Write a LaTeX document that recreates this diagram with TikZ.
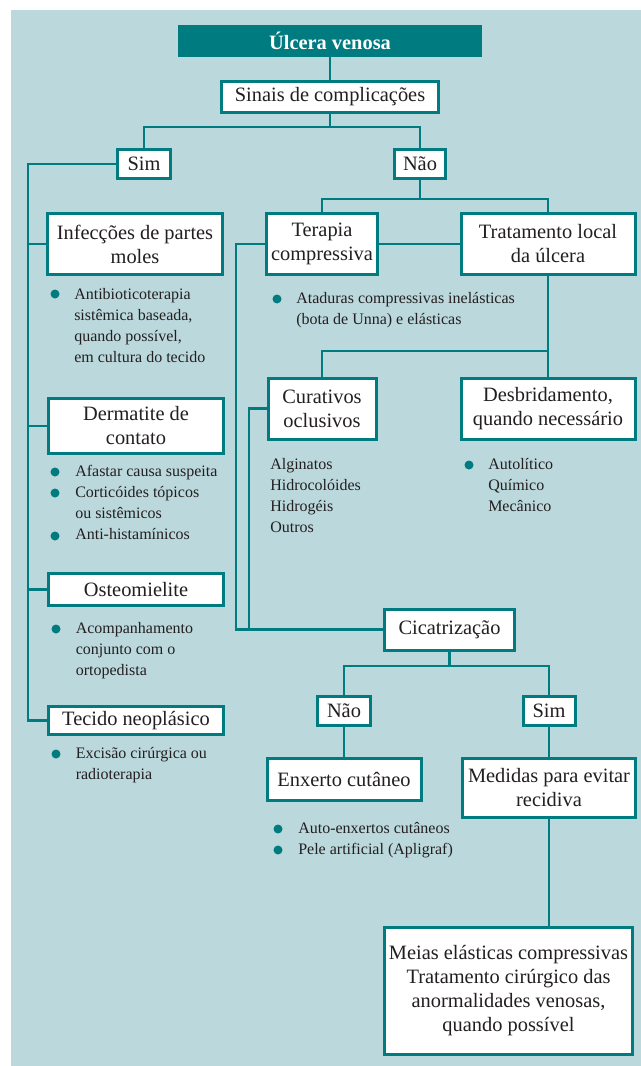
\documentclass[tikz,border=0pt]{standalone}
\usepackage{fontspec}
\setmainfont{Liberation Serif}
\definecolor{tealc}{HTML}{007B80}
\definecolor{bgc}{HTML}{BBD8DC}
\definecolor{txt}{HTML}{231F20}
\begin{document}
\begin{tikzpicture}[x=0.75pt,y=-0.75pt,
  box/.style={draw=tealc, line width=2.25pt, fill=white, align=center, inner sep=0pt, text=txt, font=\fontsize{15.3}{18}\selectfont},
  wh/.style 2 args={minimum width={(#1-3)*0.75pt}, minimum height={(#2-3)*0.75pt}},
  conn/.style={draw=tealc, line width=1.9pt},
  lst/.style={anchor=north west, inner sep=0pt, align=left, text=txt, font=\fontsize{12}{15.75}\selectfont},
  dot/.style={fill=tealc}
]
\path[use as bounding box] (0,0) rectangle (641,1066);
\fill[bgc] (11,10) rectangle (641,1066);

% boxes
\node[box, wh={304}{32}, fill=tealc, draw=tealc, text=white] (title) at (330,41) {\textbf{Úlcera venosa}};
\node[box, wh={220}{34}] (sinais) at (330,97) {Sinais de complicações};
\node[box, wh={56}{32}] (simA) at (144,164) {Sim};
\node[box, wh={54}{32}] (naoA) at (420,164) {Não};
\node[box, wh={178}{63}] (infec) at (135,244) {Infecções de partes\\moles};
\node[box, wh={178}{58}] (derm) at (136,426) {Dermatite de\\contato};
\node[box, wh={178}{35}] (osteo) at (136,589.5) {Osteomielite};
\node[box, wh={178}{31}] (tecido) at (136,720.5) {Tecido neoplásico};
\node[box, wh={114}{64}] (terapia) at (322,244) {Terapia\\compressiva};
\node[box, wh={177}{64}] (tratam) at (548,244) {Tratamento local\\da úlcera};
\node[box, wh={111}{64}] (curativos) at (322,408.5) {Curativos\\oclusivos};
\node[box, wh={177}{64}] (desbrid) at (548,408.5) {Desbridamento,\\quando necessário};
\node[box, wh={133}{44}] (cicat) at (449.5,629.5) {Cicatrização};
\node[box, wh={56}{32}] (naoB) at (344,711) {Não};
\node[box, wh={55}{32}] (simB) at (549,711) {Sim};
\node[box, wh={157}{45}] (enxerto) at (344,779.5) {Enxerto cutâneo};
\node[box, wh={176}{62}] (medidas) at (549,788) {Medidas para evitar\\recidiva};
\node[box, wh={251}{130}] (meias) at (508.5,991) {Meias elásticas compressivas\\Tratamento cirúrgico das\\anormalidades venosas,\\quando possível};

% junction coordinates
\coordinate (j1) at (330,127);
\coordinate (j2) at (0,199);
\coordinate (j3) at (0,351);
\coordinate (j4) at (0,666);
\coordinate (lx) at (28,0);
\coordinate (lx2) at (236,0);
\coordinate (lx3) at (249,0);

% connectors
\draw[conn] (title.south) -- (sinais.north);
\draw[conn] (sinais.south) -- (j1);
\draw[conn] (simA.north) |- (j1) -| (naoA.north);
\draw[conn] (simA.west) -| (lx |- tecido.west) -- (tecido.west);
\draw[conn] (infec.west) -- (lx |- infec.west);
\draw[conn] (derm.west) -- (lx |- derm.west);
\draw[conn] (osteo.west) -- (lx |- osteo.west);
\draw[conn] (naoA.south) -- (naoA.south |- j2);
\draw[conn] (terapia.north) |- (tratam.north |- j2) -- (tratam.north);
\draw[conn] (terapia.east) -- (tratam.west);
\draw[conn] (tratam.south) -- (desbrid.north);
\draw[conn] (curativos.north) |- (tratam.south |- j3);
\draw[conn] (terapia.west) -| (lx2 |- cicat.west) -- (cicat.west);
\draw[conn] (curativos.west) -| (lx3 |- cicat.west);
\draw[conn] (cicat.south) -- (cicat.south |- j4);
\draw[conn] (naoB.north) |- (simB.north |- j4) -- (simB.north);
\draw[conn] (naoB.south) -- (enxerto.north);
\draw[conn] (simB.south) -- (medidas.north);
\draw[conn] (medidas.south) -- (medidas.south |- meias.north);

% lists
\node[lst] (l1) at (74,288) {Antibioticoterapia\\sistêmica baseada,\\quando possível,\\em cultura do tecido};
\node[lst] (l2) at (75,465) {Afastar causa suspeita\\Corticóides tópicos\\ou sistêmicos\\Anti-histamínicos};
\node[lst] (l3) at (75.5,622) {Acompanhamento\\conjunto com o\\ortopedista};
\node[lst] (l4) at (75.5,747) {Excisão cirúrgica ou\\radioterapia};
\node[lst] (l5) at (296,292) {Ataduras compressivas inelásticas\\(bota de Unna) e elásticas};
\node[lst] (l6) at (270,458) {Alginatos\\Hidrocolóides\\Hidrogéis\\Outros};
\node[lst] (l7) at (488,458) {Autolítico\\Químico\\Mecânico};
\node[lst] (l8) at (298,822) {Auto-enxertos cutâneos\\Pele artificial (Apligraf)};

% bullets
\foreach \p in {(55,294),(55,472),(55,493),(55,536),(56,629),(56,754),(277,299),(469,465),(278,829),(278,850)}
  \fill[dot] \p circle (4.5);
\end{tikzpicture}
\end{document}
